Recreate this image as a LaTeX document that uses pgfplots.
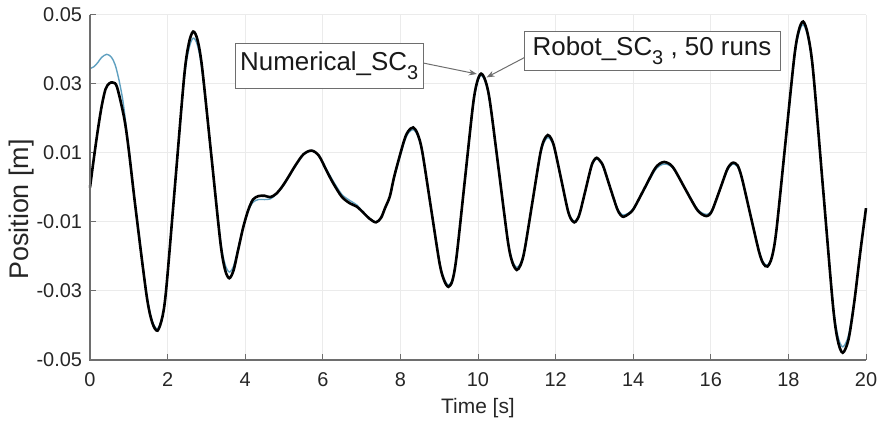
\documentclass[border=0pt]{standalone}
\usepackage{pgfplots}
\pgfplotsset{compat=1.18}
\usepackage{pgfplotstable}
\usepackage{fontspec}
\setmainfont{Liberation Sans}
\usetikzlibrary{calc,arrows.meta}
\definecolor{numblue}{RGB}{95,160,192}
\definecolor{axgray}{RGB}{110,110,110}
\definecolor{txtgray}{RGB}{38,38,38}

\pgfplotstableread{
x y
0.00 0.0000
0.10 0.0085
0.20 0.0165
0.30 0.0235
0.40 0.0285
0.50 0.0302
0.60 0.0304
0.70 0.0290
0.885 0.0199
1.00 0.0108
1.17 -0.0056
1.455 -0.0310
1.60 -0.0390
1.74 -0.0415
1.87 -0.0373
1.97 -0.0288
2.20 0.0019
2.43 0.0325
2.55 0.0419
2.66 0.0452
2.77 0.0428
2.89 0.0347
3.125 0.0095
3.36 -0.0158
3.48 -0.0238
3.59 -0.0263
3.70 -0.0240
3.82 -0.0180
3.95 -0.0115
4.08 -0.0065
4.20 -0.0035
4.34 -0.0025
4.50 -0.0024
4.65 -0.0028
4.80 -0.0018
4.95 0.0002
5.10 0.0028
5.30 0.0065
5.50 0.0096
5.71 0.0107
5.90 0.0092
6.10 0.0048
6.27 0.0012
6.49 -0.0027
6.70 -0.0046
6.87 -0.0055
7.00 -0.0068
7.20 -0.0090
7.37 -0.0101
7.50 -0.0088
7.61 -0.0058
7.73 -0.0025
7.85 0.0036
8.09 0.0134
8.20 0.0163
8.33 0.0174
8.44 0.0156
8.56 0.0106
8.785 -0.0057
9.01 -0.0220
9.13 -0.0270
9.24 -0.0288
9.345 -0.0268
9.45 -0.0198
9.66 0.0020
9.87 0.0238
9.975 0.0305
10.08 0.0330
10.195 0.0308
10.31 0.0247
10.54 0.0046
10.77 -0.0156
10.885 -0.0217
11.00 -0.0239
11.10 -0.0224
11.20 -0.0182
11.40 -0.0044
11.60 0.0095
11.70 0.0137
11.80 0.0152
11.885 0.0142
11.97 0.0115
12.14 0.0026
12.31 -0.0064
12.395 -0.0091
12.48 -0.0101
12.55 -0.0094
12.625 -0.0074
12.77 -0.0008
12.915 0.0059
12.99 0.0079
13.06 0.0086
13.14 0.0078
13.23 0.0061
13.405 0.0000
13.58 -0.0060
13.67 -0.0079
13.75 -0.0085
13.88 -0.0077
14.01 -0.0062
14.275 -0.0006
14.54 0.0051
14.67 0.0068
14.80 0.0074
14.94 0.0068
15.07 0.0051
15.345 -0.0005
15.62 -0.0060
15.76 -0.0077
15.89 -0.0083
15.98 -0.0077
16.06 -0.0060
16.235 -0.0006
16.41 0.0049
16.50 0.0066
16.58 0.0072
16.69 0.0064
16.80 0.0028
17.02 -0.0079
17.24 -0.0185
17.35 -0.0220
17.46 -0.0229
17.575 -0.0202
17.69 -0.0125
17.92 0.0126
18.15 0.0377
18.265 0.0454
18.38 0.0481
18.50 0.0444
18.635 0.0340
18.89 0.0001
19.145 -0.0338
19.27 -0.0442
19.40 -0.0479
19.55 -0.0440
19.70 -0.0330
19.85 -0.0190
20.00 -0.0060
}\robot

\pgfplotstableread{
x y
0.00 0.0345
0.10 0.0350
0.20 0.0362
0.30 0.0377
0.43 0.0386
0.55 0.0378
0.65 0.0355
0.75 0.0310
0.85 0.0250
0.95 0.0160
1.05 0.0065
1.17 -0.0052
1.455 -0.0305
1.60 -0.0385
1.74 -0.0410
1.87 -0.0370
1.97 -0.0285
2.20 0.0019
2.43 0.0315
2.55 0.0402
2.66 0.0433
2.77 0.0412
2.89 0.0337
3.125 0.0095
3.36 -0.0150
3.48 -0.0222
3.59 -0.0245
3.70 -0.0228
3.82 -0.0175
3.95 -0.0115
4.08 -0.0068
4.20 -0.0043
4.34 -0.0035
4.50 -0.0035
4.65 -0.0033
4.80 -0.0020
4.95 0.0000
5.10 0.0026
5.30 0.0063
5.50 0.0095
5.71 0.0106
5.90 0.0092
6.10 0.0052
6.27 0.0018
6.49 -0.0020
6.70 -0.0038
6.87 -0.0050
7.00 -0.0066
7.20 -0.0089
7.37 -0.0100
7.50 -0.0088
7.61 -0.0060
7.73 -0.0028
7.85 0.0032
8.09 0.0128
8.20 0.0157
8.33 0.0168
8.44 0.0151
8.56 0.0103
8.785 -0.0057
9.01 -0.0216
9.13 -0.0265
9.24 -0.0283
9.345 -0.0264
9.45 -0.0196
9.66 0.0018
9.87 0.0233
9.975 0.0300
10.08 0.0325
10.195 0.0304
10.31 0.0244
10.54 0.0046
10.77 -0.0152
10.885 -0.0211
11.00 -0.0232
11.10 -0.0218
11.20 -0.0178
11.40 -0.0044
11.60 0.0090
11.70 0.0130
11.80 0.0145
11.885 0.0136
11.97 0.0111
12.14 0.0026
12.31 -0.0062
12.395 -0.0088
12.48 -0.0098
12.55 -0.0092
12.625 -0.0073
12.77 -0.0008
12.915 0.0057
12.99 0.0076
13.06 0.0083
13.14 0.0076
13.23 0.0059
13.405 0.0000
13.58 -0.0057
13.67 -0.0074
13.75 -0.0080
13.88 -0.0074
14.01 -0.0060
14.275 -0.0008
14.54 0.0046
14.67 0.0062
14.80 0.0068
14.94 0.0064
15.07 0.0049
15.345 -0.0005
15.62 -0.0057
15.76 -0.0073
15.89 -0.0078
15.98 -0.0073
16.06 -0.0058
16.235 -0.0006
16.41 0.0046
16.50 0.0062
16.58 0.0068
16.69 0.0060
16.80 0.0026
17.02 -0.0078
17.24 -0.0181
17.35 -0.0216
17.46 -0.0225
17.575 -0.0199
17.69 -0.0125
17.92 0.0122
18.15 0.0369
18.265 0.0445
18.38 0.0472
18.50 0.0437
18.635 0.0335
18.89 0.0001
19.145 -0.0330
19.27 -0.0428
19.40 -0.0462
19.55 -0.0428
19.70 -0.0325
19.85 -0.0188
20.00 -0.0060
}\numerical

\begin{document}
\begin{tikzpicture}
\begin{axis}[
  scale only axis, width=388bp, height=172.5bp,
  xmin=0, xmax=20, ymin=-0.05, ymax=0.05,
  clip=false,
  scaled y ticks=false, scaled x ticks=false,
  xtick={0,2,...,20},
  ytick={-0.05,-0.03,-0.01,0.01,0.03,0.05},
  yticklabels={-0.05,-0.03,-0.01,0.01,0.03,0.05},
  tick pos=left, tick align=inside,
  major tick length=3bp,
  tick style={axgray, line width=0.5bp},
  axis line style={draw=none},
  grid=major,
  grid style={black!8, line width=0.5bp},
  /pgf/number format/assume math mode=true,
  tick label style={font=\fontsize{10}{12}\selectfont, text=txtgray},
  xticklabel style={yshift=-3bp},
  yticklabel style={xshift=-0.5bp},
  xlabel={Time [s]},
  ylabel={Position [m]},
  xlabel style={font=\fontsize{10.5}{12}\selectfont, text=txtgray, at={(axis description cs:0.5,0)}, anchor=north, inner sep=0pt, yshift=-19bp},
  ylabel style={font=\fontsize{13.5}{16}\selectfont, text=txtgray, at={(axis description cs:0,0.5)}, anchor=center, inner sep=0pt, xshift=-11bp, yshift=34bp},
]
\coordinate (bl) at (rel axis cs:0,0);
\coordinate (tr) at (rel axis cs:1,1);
\addplot[numblue, line width=0.7bp, smooth, tension=0.5] table[x=x,y=y] {\numerical};
\addplot[black, line width=1.3bp, smooth, tension=0.5] table[x=x,y=y] {\robot};
\draw[axgray, line width=0.6bp] (rel axis cs:0,1) -- (rel axis cs:0,0) -- (rel axis cs:1,0);
\draw[axgray, line width=0.5bp, -{Stealth[length=4bp,width=3bp]}] (axis cs:8.548,0.03617) -- (axis cs:9.97,0.0329);
\draw[axgray, line width=0.5bp, -{Stealth[length=4bp,width=3bp]}] (axis cs:11.21,0.03774) -- (axis cs:10.22,0.0319);
\node[draw=axgray, fill=white, line width=0.5bp, inner sep=0pt, minimum width=94bp, minimum height=22.5bp, font=\fontsize{13}{15}\selectfont, text=black!90] at (axis cs:6.165,0.03528) {Numerical\_SC\raisebox{-0.35em}{\fontsize{10}{12}\selectfont 3}};
\node[draw=axgray, fill=white, line width=0.5bp, inner sep=0pt, minimum width=128bp, minimum height=19.2bp, font=\fontsize{13}{15}\selectfont, text=black!90] at (axis cs:14.485,0.03961) {Robot\_SC\raisebox{-0.35em}{\fontsize{10}{12}\selectfont 3} , 50 runs};
\end{axis}
\pgfresetboundingbox
\path ($(bl)+(-45bp,-31.5bp)$) rectangle ($(tr)+(8bp,7.5bp)$);
\end{tikzpicture}
\end{document}
